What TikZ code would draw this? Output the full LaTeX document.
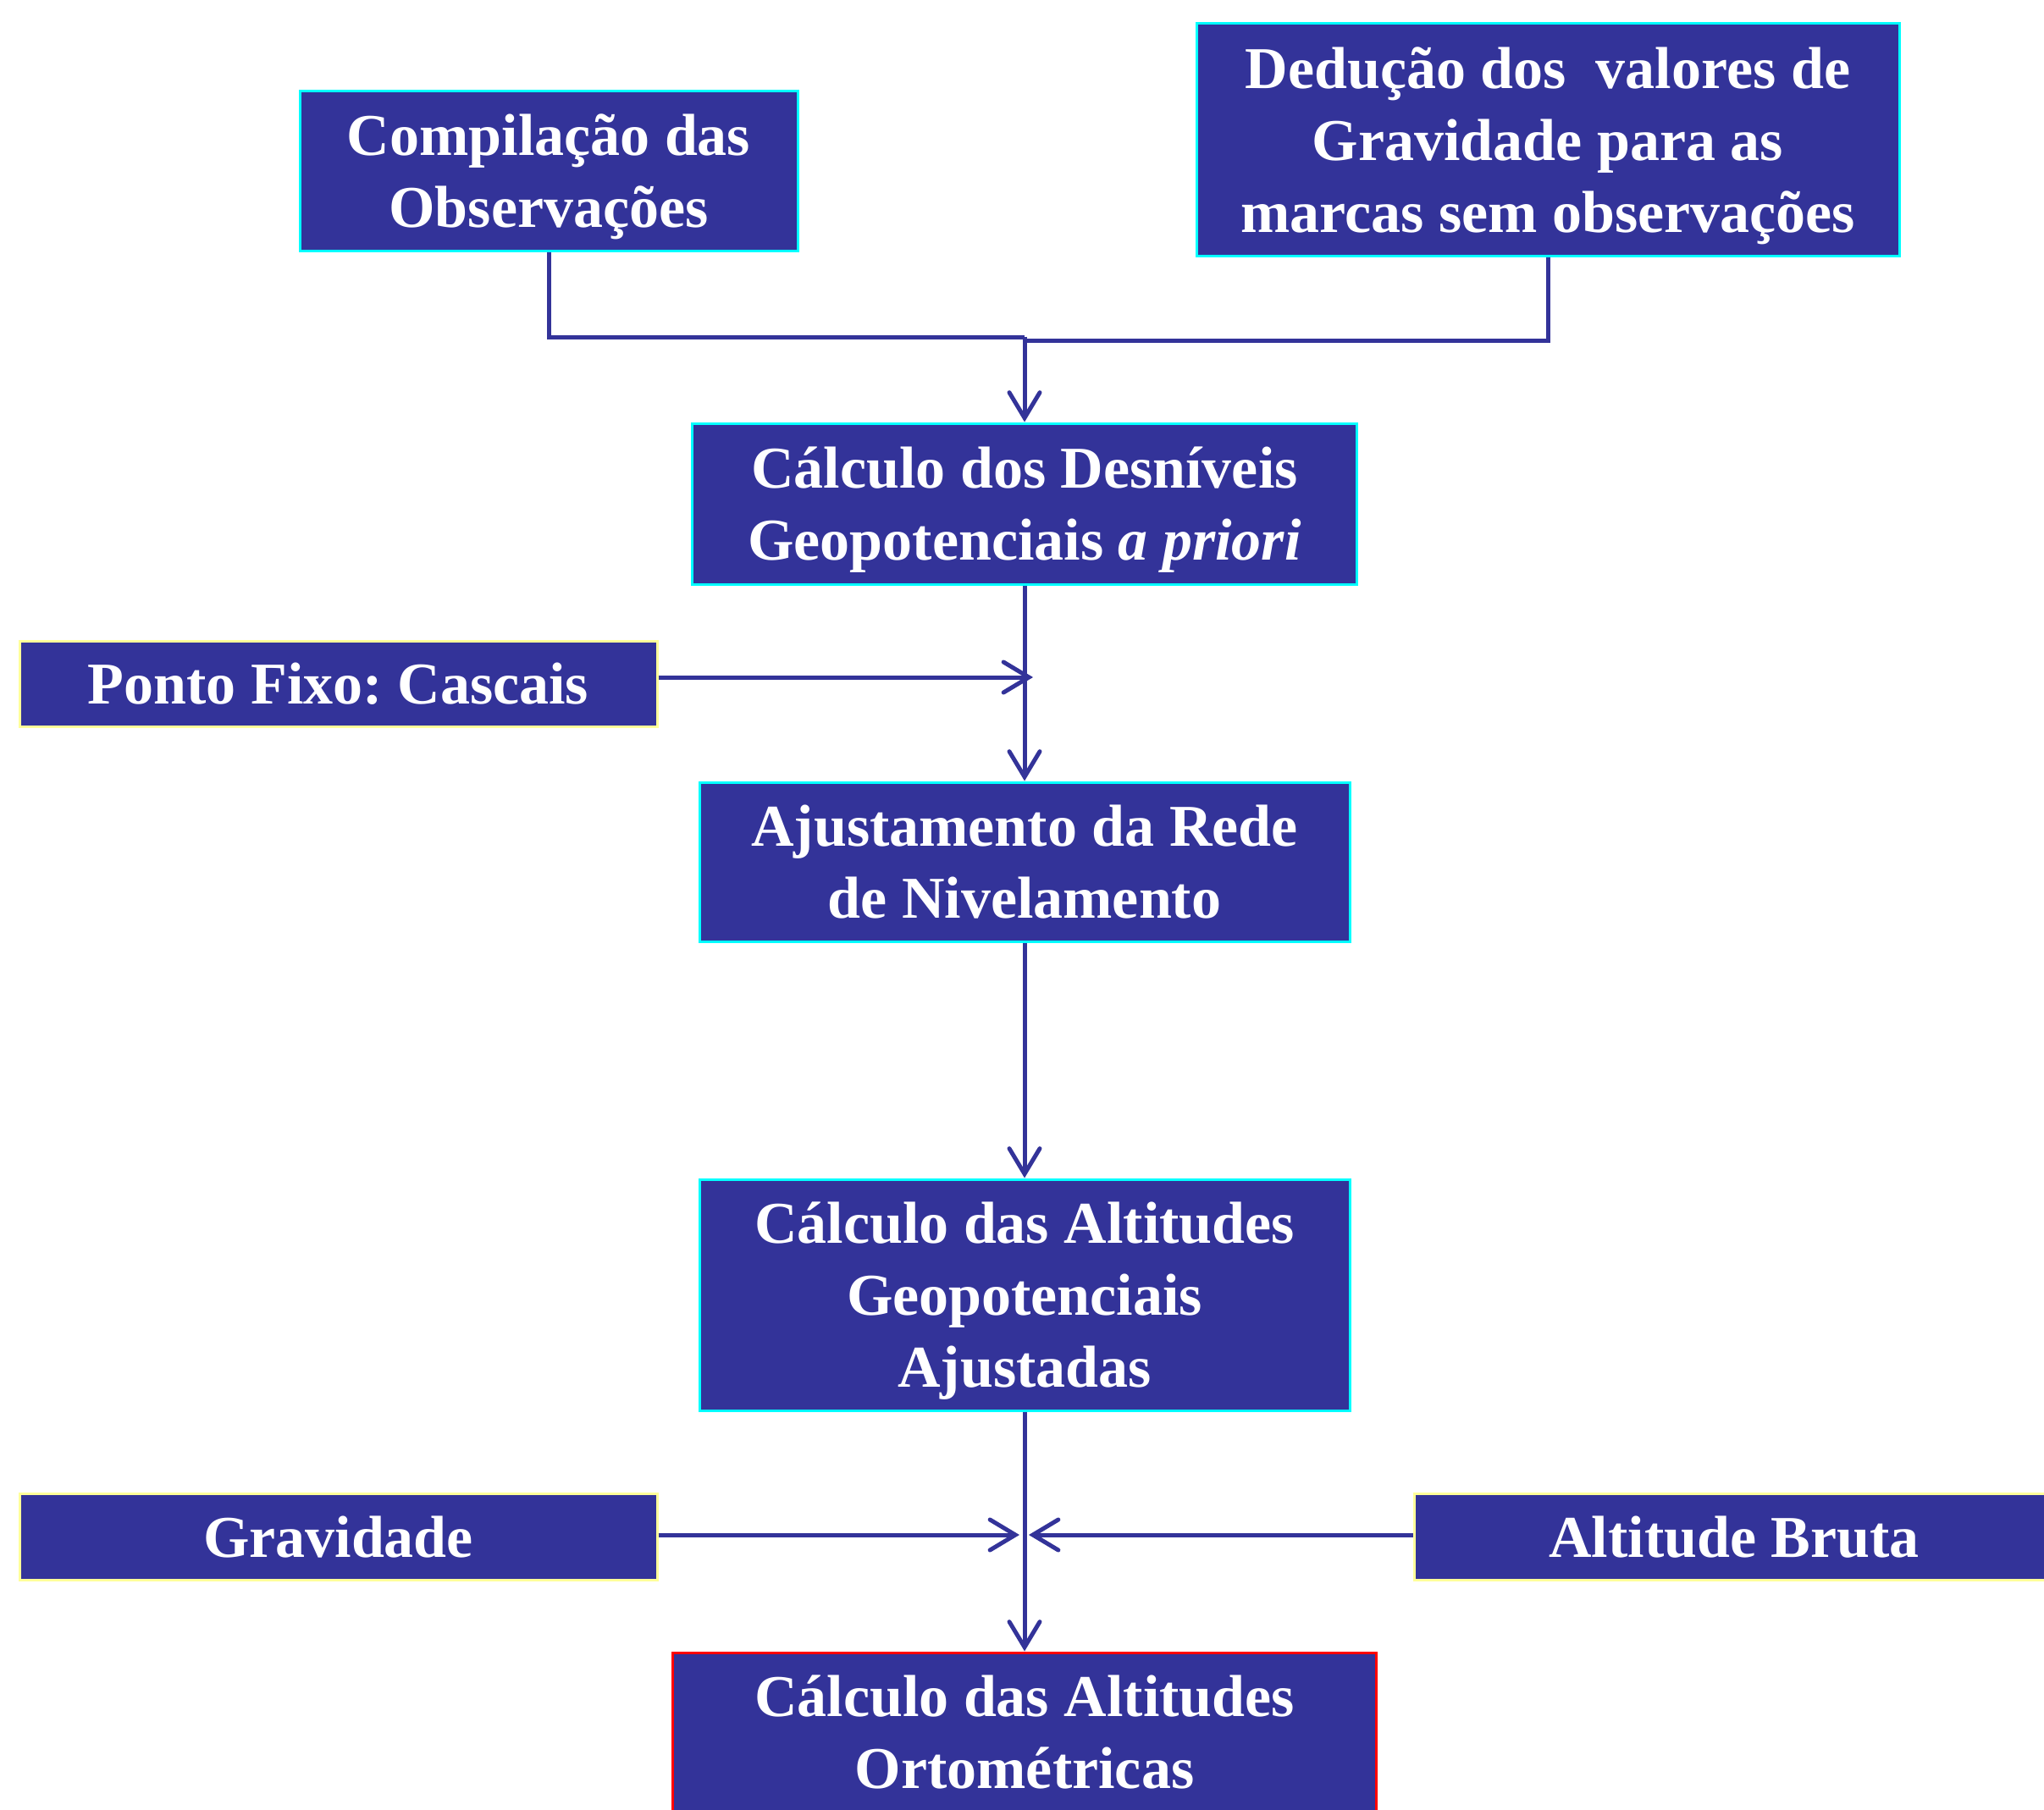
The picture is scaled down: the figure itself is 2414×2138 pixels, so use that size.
\documentclass[tikz,border=0pt]{standalone}
\usepackage{fontspec}
\setmainfont{Liberation Serif}
\usetikzlibrary{arrows.meta}
\definecolor{boxblue}{HTML}{333399}
\definecolor{bcyan}{HTML}{00FFFF}
\definecolor{byellow}{HTML}{FFFF99}
\frenchspacing
\begin{document}
\begin{tikzpicture}[x=1pt,y=-1pt,
  box/.style={rectangle, fill=boxblue, line width=3pt, inner sep=0pt, text=white, align=center,
              text depth=-14pt, font=\fontsize{70}{85}\selectfont\bfseries},
  cyanbox/.style={box, draw=bcyan},
  ylwbox/.style={box, draw=byellow},
  redbox/.style={box, draw=red},
  conn/.style={draw=boxblue, line width=5pt},
  arr/.style={conn, -{Straight Barb[length=30pt,width=36pt,line cap=round]}},
]
\useasboundingbox (0,0) rectangle (2414,2138);
\node[cyanbox, minimum width=588pt, minimum height=188pt] (a) at (648,202) {Compilação das\\Observações};
\node[cyanbox, minimum width=830pt, minimum height=274pt] (b) at (1828,165) {Dedução dos~ valores de\\Gravidade para as\\marcas sem observações};
\node[cyanbox, minimum width=785pt, minimum height=190pt] (c) at (1210,595) {Cálculo dos Desníveis\\Geopotenciais \textit{a priori}};
\node[ylwbox, minimum width=753pt, minimum height=101pt] (d) at (399.5,807.5) {Ponto Fixo: Cascais};
\node[cyanbox, minimum width=768pt, minimum height=188pt] (e) at (1210,1018) {Ajustamento da Rede\\de Nivelamento};
\node[cyanbox, minimum width=768pt, minimum height=273pt] (f) at (1210,1529.5) {Cálculo das Altitudes\\Geopotenciais\\Ajustadas};
\node[ylwbox, minimum width=753pt, minimum height=102pt] (g) at (399.5,1815) {Gravidade};
\node[ylwbox, minimum width=756pt, minimum height=102pt] (h) at (2048,1815) {Altitude Bruta};
\node[redbox, minimum width=831pt, minimum height=188pt] (i) at (1210,2046) {Cálculo das Altitudes\\Ortométricas};
\coordinate (j1) at (1210,398);
\coordinate (j2) at (1210,402);
\coordinate (pf) at (1220,800);
\coordinate (gt) at (1204,1813);
\coordinate (ht) at (1215,1813);
\draw[conn] (a.south) |- (j1);
\draw[conn] (b.south) |- (j2);
\draw[arr] (j1) -- (j1 |- c.north);
\draw[arr] (c.south) -- (e.north);
\draw[arr] (d.east |- pf) -- (pf);
\draw[arr] (e.south) -- (f.north);
\draw[arr] (f.south) -- (i.north);
\draw[arr] (g.east |- gt) -- (gt);
\draw[arr] (h.west |- ht) -- (ht);
\end{tikzpicture}
\end{document}
